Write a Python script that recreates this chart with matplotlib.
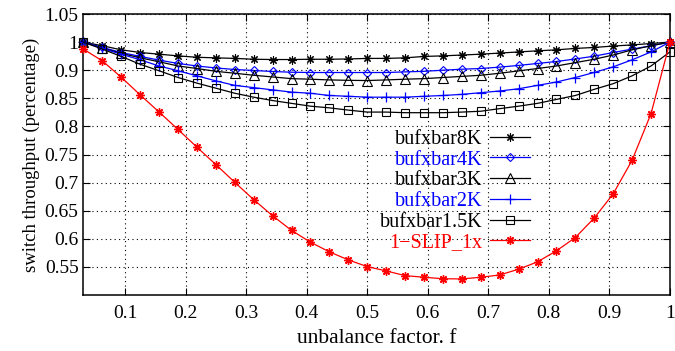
import numpy as np
import matplotlib
matplotlib.use("Agg")
import matplotlib.pyplot as plt

plt.rcParams['font.family'] = ['Liberation Serif', 'DejaVu Serif']

# x: unbalance factor f = k/32, k = 1..32
f = [k / 32 for k in range(1, 33)]

buf8k = [1.0, 0.987, 0.9725, 0.963, 0.957, 0.951, 0.946, 0.944, 0.942, 0.939,
         0.938, 0.938, 0.939, 0.939, 0.940, 0.942, 0.942, 0.944, 0.949, 0.951,
         0.954, 0.957, 0.961, 0.965, 0.969, 0.9725, 0.9775, 0.981, 0.986, 0.990,
         0.995, 1.0]
buf4k = [1.0, 0.981, 0.963, 0.949, 0.936, 0.924, 0.915, 0.908, 0.9025, 0.8995,
         0.8977, 0.8964, 0.8959, 0.8959, 0.8959, 0.8959, 0.8959, 0.897, 0.898, 0.900,
         0.9036, 0.906, 0.911, 0.917, 0.924, 0.931, 0.940, 0.950, 0.963, 0.975,
         0.987, 1.0]
buf3k = [1.0, 0.979, 0.960, 0.944, 0.930, 0.915, 0.906, 0.898, 0.8946, 0.891,
         0.888, 0.885, 0.884, 0.8827, 0.882, 0.8816, 0.8827, 0.884, 0.885, 0.887,
         0.889, 0.891, 0.8946, 0.8988, 0.906, 0.915, 0.927, 0.939, 0.954, 0.9725,
         0.987, 1.0]
buf2k = [1.0, 0.9775, 0.957, 0.937, 0.915, 0.899, 0.890, 0.881, 0.873, 0.869,
         0.865, 0.861, 0.859, 0.855, 0.8536, 0.852, 0.852, 0.852, 0.8536, 0.855,
         0.857, 0.860, 0.863, 0.867, 0.873, 0.879, 0.887, 0.896, 0.912, 0.937,
         0.965, 1.0]
buf15k = [1.0, 0.975, 0.949, 0.921, 0.899, 0.887, 0.877, 0.868, 0.859, 0.852,
          0.846, 0.841, 0.836, 0.833, 0.829, 0.8255, 0.8255, 0.8244, 0.8244, 0.8244,
          0.8255, 0.827, 0.8316, 0.836, 0.841, 0.848, 0.855, 0.866, 0.876, 0.890,
          0.915, 0.965]
slip1x = [0.975, 0.933, 0.8875, 0.856, 0.8255, 0.7946, 0.763, 0.732, 0.7005, 0.6696,
          0.641, 0.6149, 0.594, 0.5768, 0.5625, 0.5505, 0.5429, 0.5345, 0.5316, 0.529,
          0.5286, 0.5316, 0.5357, 0.5459, 0.559, 0.5786, 0.6023, 0.637, 0.680, 0.7398,
          0.8227, 1.0]

labels = ['bufxbar8K', 'bufxbar4K', 'bufxbar3K', 'bufxbar2K', 'bufxbar1.5K', '1\u2212SLIP_1x']
xticks = [0.1, 0.2, 0.3, 0.4, 0.5, 0.6, 0.7, 0.8, 0.9, 1.0]
yticks = [0.55, 0.6, 0.65, 0.7, 0.75, 0.8, 0.85, 0.9, 1.0, 1.05]

# the printed y axis is compressed between 0.9 and 1.0 (as in the reference)
_lab = np.array([-10.0, 0.9, 1.0, 10.0])
_pos = np.array([-10.0, 0.9, 0.95, 9.95])
def fwd(v):
    return np.interp(v, _lab, _pos)
def inv(p):
    return np.interp(p, _pos, _lab)

fig = plt.figure(figsize=(6.75, 3.51), dpi=100)
ax = fig.add_axes([0.1225, 0.1595, 0.870, 0.8006])
ax.set_yscale('function', functions=(fwd, inv))

ast = (8, 2, 0)
styles = [
    dict(color='black', marker=ast, ms=6, mew=0.8, mfc='none'),
    dict(color='#0000ff', marker='D', ms=4.2, mew=0.8, mfc='none'),
    dict(color='black', marker='^', ms=6.5, mew=0.8, mfc='none'),
    dict(color='#0000ff', marker='+', ms=7, mew=0.9),
    dict(color='black', marker='s', ms=5.5, mew=0.8, mfc='none'),
    dict(color='#ff0000', marker=ast, ms=6, mew=1.0, mfc='none'),
]
series = [buf8k, buf4k, buf3k, buf2k, buf15k, slip1x]
for ys, lab, st in zip(series, labels, styles):
    ax.plot(f, ys, lw=0.9, label=lab, clip_on=False, zorder=3, **st)

ax.set_xlim(0.03, 1.0)
ax.set_ylim(0.5, 1.05)
ax.set_xticks(xticks)
ax.set_xticklabels(['%g' % t for t in xticks])
ax.set_yticks(yticks)
ax.set_yticklabels(['%g' % t for t in yticks])
ax.minorticks_off()
ax.tick_params(direction='in', length=5, width=0.8, top=True, right=True,
               labelsize=14, colors='black')
ax.tick_params(axis='x', pad=7)
ax.tick_params(axis='y', pad=3)
ax.grid(True, color='black', linestyle=(0, (1, 3)), linewidth=0.8, zorder=0)
for s in ax.spines.values():
    s.set_linewidth(1.1)

ax.set_xlabel('unbalance factor. f', fontsize=15.5, labelpad=5)
ax.set_ylabel('switch throughput (percentage)', fontsize=13.5, labelpad=3)

leg = ax.legend(loc='center right', bbox_to_anchor=(0.779, 0.370), frameon=False,
                markerfirst=False, fontsize=14.5, handlelength=2.0,
                handletextpad=0.35, labelspacing=0.08, borderpad=0)
for t, st in zip(leg.get_texts(), styles):
    t.set_color(st['color'])

fig.savefig('out.png', dpi=100)
